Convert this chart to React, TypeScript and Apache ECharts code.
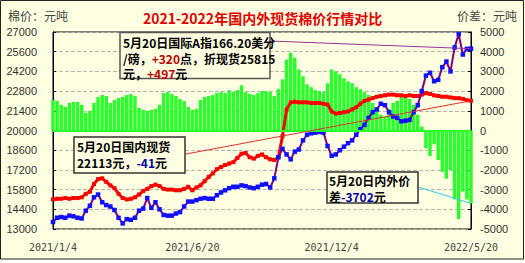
import React, { useEffect, useRef } from "react";
import * as echarts from "echarts";

// x-axis tick labels and the category indices where they sit
const tickLabels = ["2021/1/4", "2021/6/20", "2021/12/4", "2022/5/20"];
const labelIdx = [0, 34, 68, 102];

// 国内现货 (left axis, 元/吨)
const domestic = [
  15100, 15150, 15150, 15200, 15150, 15200, 15200, 15250, 15500, 15650,
  16200, 16550, 16600, 16350, 16100, 15900, 15500, 15200, 15100, 15150,
  15250, 15450, 15700, 15850, 16050, 16150, 16050, 15850, 15800, 15800,
  15750, 15750, 15850, 16000, 15750, 15950, 16100, 16400, 16700, 16950,
  17250, 17400, 17550, 17650, 17750, 18050, 18350, 18400, 18100, 18000,
  18200, 18300, 18100, 17950, 17900, 18100, 19600, 21500, 22000, 22050,
  22000, 22000, 22000, 21950, 21950, 21950, 21900, 21850, 21350, 21200,
  21250, 21300, 21350, 21500, 21650, 21900, 22100, 22200, 22300, 22400,
  22450, 22500, 22550, 22550, 22500, 22500, 22450, 22500, 22450, 22450,
  22550, 22650, 22600, 22500, 22450, 22400, 22400, 22350, 22300, 22300,
  22250, 22150, 22113,
];

// 国际A指折现货 (left axis, 元/吨)
const international = [
  13500, 13800, 13850, 13800, 13950, 13900, 13800, 13750, 14300, 14650,
  15250, 15450, 14900, 14700, 14600, 14350, 13800, 13400, 13700, 13650,
  13800, 14300, 14450, 15200, 14500, 14900, 14400, 14000, 13950, 13950,
  14100, 14200, 14600, 14950, 14950, 15050, 15150, 15200, 15150, 15150,
  15400, 15600, 15750, 15900, 16000, 16000, 16100, 16050, 15950, 15900,
  16000, 16150, 16200, 15950, 16600, 18100, 18700, 18300, 17950, 18500,
  18650, 19300, 19700, 19800, 19850, 19900, 19850, 18900, 18200, 18300,
  18600, 18850, 19100, 19300, 19700, 20100, 20400, 20900, 21300, 21500,
  21900, 21800, 21300, 21000, 20900, 20650, 20700, 20750, 21300, 21800,
  22800, 23900, 24100, 23500, 23600, 24500, 24900, 24200, 25900, 26850,
  25400, 25800, 25815,
];

// 内外价差 (right axis, 元/吨)
const spread = [
  1550, 1500, 1300, 1200, 1400, 1450, 1450, 1300, 900, 1000,
  1400, 1700, 1800, 1750, 1400, 1550, 1650, 1700, 1800, 1850,
  1750, 1150, 1050, 1000, 1050, 1100, 1300, 1900, 1950, 1850,
  1750, 1600, 1500, 1200, 1050, 1100, 1550, 1700, 1750, 1800,
  1900, 1950, 1900, 2050, 1950, 2050, 2300, 1950, 1850, 1800,
  1900, 2000, 2000, 1950, 1750, 2100, 2600, 3600, 3950, 3700,
  3100, 2750, 2350, 2200, 2050, 2000, 1950, 2400, 3100, 3000,
  2850, 2650, 2500, 2400, 2200, 2100, 1950, 1800, 1400, 1100,
  800, 700, 1100, 1400, 1500, 1700, 1700, 1600, 1300, 800,
  200, -900, -1300, -700, -1500, -2100, -2450, -2000, -3500, -4500,
  -3100, -3500, -3702,
];

const CJK = "'Noto Sans CJK SC', 'Noto Sans', sans-serif";
const BG = "#ffffe1";

export default function App() {
  const ref = useRef<HTMLDivElement>(null);

  useEffect(() => {
    const el = ref.current!;
    const chart = echarts.init(el, null, { renderer: "svg" });
    const n = domestic.length;
    const cats = domestic.map((_, i) => String(i));
    const isLabel = (i: number) => labelIdx.indexOf(i) >= 0;
    const plain = (v: number) => String(v);

    chart.setOption({
      animation: false,
      backgroundColor: BG,
      title: {
        text: "2021-2022年国内外现货棉价行情对比",
        left: "center",
        top: 6,
        textStyle: { color: "#e00000", fontSize: 14, fontWeight: "bold", fontFamily: CJK },
      },
      grid: {
        left: 53,
        right: 54,
        top: 32,
        bottom: 31,
        show: true,
        borderColor: "#000",
        borderWidth: 1,
        backgroundColor: "transparent",
      },
      xAxis: {
        type: "category",
        data: cats,
        boundaryGap: false,
        axisLine: { lineStyle: { color: "#000", width: 1 } },
        axisTick: {
          inside: true,
          length: 4,
          interval: (i: number) => isLabel(i),
          lineStyle: { color: "#000" },
        },
        axisLabel: {
          interval: (i: number) => isLabel(i),
          formatter: (_v: string, i: number) => {
            const k = labelIdx.indexOf(i);
            return k >= 0 ? tickLabels[k] : "";
          },
          margin: 13,
          color: "#444",
          fontFamily: "'DejaVu Sans Mono', monospace",
          fontSize: 10,
        },
        splitLine: { show: false },
      },
      yAxis: [
        {
          type: "value",
          position: "left",
          min: 13000,
          max: 27000,
          interval: 1400,
          axisLine: { show: true, lineStyle: { color: "#000" } },
          axisTick: { show: true, inside: true, length: 3, lineStyle: { color: "#000" } },
          axisLabel: {
            margin: 16,
            color: "#333",
            fontSize: 11,
            fontFamily: "'Liberation Sans', Arial, sans-serif",
            formatter: plain,
          },
          splitLine: { show: true, lineStyle: { type: "dashed", color: "#b5b5b5", width: 1 } },
        },
        {
          type: "value",
          position: "right",
          min: -5000,
          max: 5000,
          interval: 1000,
          axisLine: { show: true, lineStyle: { color: "#000" } },
          axisTick: { show: true, inside: true, length: 3, lineStyle: { color: "#000" } },
          axisLabel: {
            margin: 9,
            color: "#333",
            fontSize: 11,
            fontFamily: "'Liberation Sans', Arial, sans-serif",
            formatter: plain,
          },
          splitLine: { show: false },
        },
      ],
      series: [
        {
          name: "价差",
          type: "bar",
          yAxisIndex: 1,
          data: spread,
          barCategoryGap: "15%",
          itemStyle: { color: "#2bff2b" },
          z: 1,
          markLine: {
            silent: true,
            symbol: "none",
            data: [{ yAxis: 0 }],
            lineStyle: { color: "#2bff2b", width: 2, type: "solid" },
            label: { show: false },
          },
        },
        {
          name: "国内现货",
          type: "line",
          yAxisIndex: 0,
          data: domestic,
          showSymbol: true,
          showAllSymbol: true,
          symbol: "rect",
          symbolSize: 4,
          itemStyle: { color: "#ff0000" },
          lineStyle: { color: "#ff0000", width: 3 },
          z: 3,
        },
        {
          name: "国际折现货",
          type: "line",
          yAxisIndex: 0,
          data: international,
          showSymbol: true,
          showAllSymbol: true,
          symbol: "rect",
          symbolSize: 4.5,
          itemStyle: { color: "#1010ff" },
          lineStyle: { color: "#800080", width: 2 },
          z: 4,
        },
      ],
    });

    const pD = chart.convertToPixel({ xAxisIndex: 0, yAxisIndex: 0 }, [n - 1, domestic[n - 1]]) as number[];
    const pI = chart.convertToPixel({ xAxisIndex: 0, yAxisIndex: 0 }, [n - 1, international[n - 1]]) as number[];
    const pS = chart.convertToPixel({ xAxisIndex: 0, yAxisIndex: 1 }, [n - 1, spread[n - 1]]) as number[];

    const boxFont = { fontFamily: CJK, fontSize: 12, fontWeight: "bold" as const };
    const line = (id: string, x: number, y: number, text: string, rich?: any) => ({
      type: "text",
      id,
      z: 102,
      x,
      y,
      style: {
        text,
        fill: "#000",
        ...boxFont,
        verticalAlign: "middle",
        ...(rich ? { rich } : {}),
      },
    });
    const red = { r: { fill: "#c00000", ...boxFont } };
    const blue = { b: { fill: "#0000aa", ...boxFont } };

    chart.setOption({
      graphic: {
        elements: [
          {
            type: "rect",
            id: "frame",
            silent: true,
            z: 0,
            shape: { x: 0.5, y: 0.5, width: 523, height: 258.5 },
            style: { fill: "none", stroke: "#222", lineWidth: 1 },
          },
          {
            type: "text",
            id: "lname",
            x: 8,
            y: 9,
            style: { text: "棉价：元吨", fill: "#444", fontSize: 12, fontFamily: CJK },
          },
          {
            type: "text",
            id: "rname",
            x: 457,
            y: 9,
            style: { text: "价差：元吨", fill: "#444", fontSize: 12, fontFamily: CJK },
          },
          // leader lines
          {
            type: "line",
            id: "l1",
            z: 100,
            shape: { x1: 270, y1: 41, x2: pI[0], y2: pI[1] },
            style: { stroke: "#993399", lineWidth: 1 },
          },
          {
            type: "line",
            id: "l2",
            z: 100,
            shape: { x1: 186, y1: 154, x2: pD[0], y2: pD[1] },
            style: { stroke: "#e03030", lineWidth: 1 },
          },
          {
            type: "line",
            id: "l3",
            z: 100,
            shape: { x1: 418, y1: 187, x2: pS[0], y2: pS[1] },
            style: { stroke: "#33ccee", lineWidth: 1 },
          },
          // box 1
          {
            type: "rect",
            id: "b1",
            z: 101,
            shape: { x: 120, y: 32.5, width: 150, height: 46 },
            style: { fill: BG, stroke: "#555", lineWidth: 1.5 },
          },
          line("t1a", 123, 42.5, "5月20日国际A指166.20美分"),
          line("t1b", 123, 58, "/磅，{r|+320}点，折现货25815", red),
          line("t1c", 123, 73.5, "元，{r|+497}元", red),
          // box 2
          {
            type: "rect",
            id: "b2",
            z: 101,
            shape: { x: 74, y: 137, width: 111, height: 36 },
            style: { fill: BG, stroke: "#333", lineWidth: 1.5 },
          },
          line("t2a", 77, 146, "5月20日国内现货"),
          line("t2b", 77, 162, "22113元，{b|-41}元", blue),
          // box 3
          {
            type: "rect",
            id: "b3",
            z: 101,
            shape: { x: 327, y: 172, width: 91, height: 31 },
            style: { fill: BG, stroke: "#333", lineWidth: 1.5 },
          },
          line("t3a", 329, 180, "5月20日内外价"),
          line("t3b", 329, 196, "差{b|-3702}元", blue),
        ],
      },
    });

    return () => chart.dispose();
  }, []);

  return (
    <div style={{ position: "absolute", left: 0, top: 0, width: 525, height: 263, background: "#fff" }}>
      <div ref={ref} style={{ width: 525, height: 260 }} />
    </div>
  );
}
